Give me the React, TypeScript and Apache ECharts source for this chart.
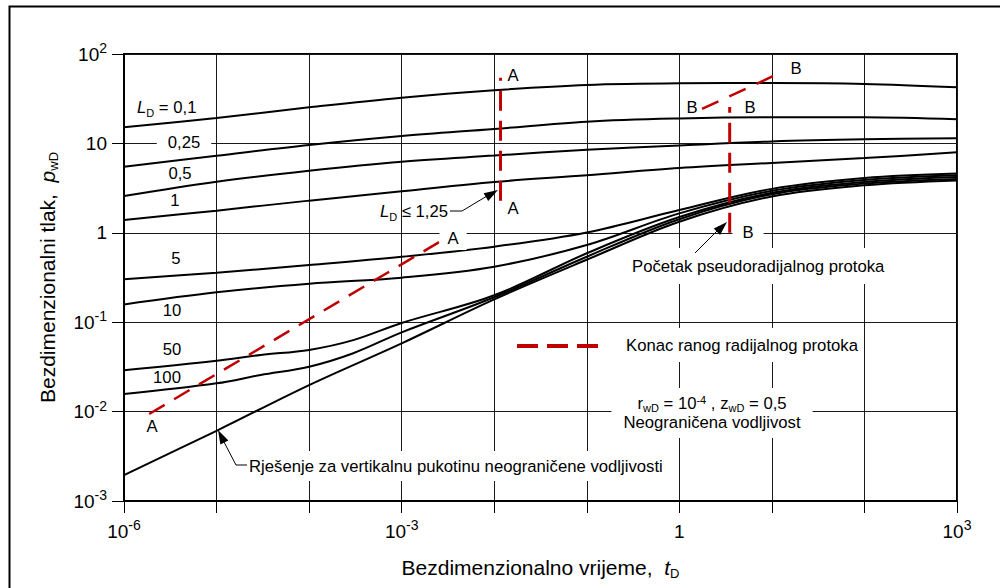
import React, { useEffect, useRef } from 'react';
import * as echarts from 'echarts';

// ---------- data ----------
const tD = [1e-6, 1e-5, 1e-4, 1e-3, 1e-2, 1e-1, 1, 10, 100, 1000];
const pLD01 = [15.2, 19.2, 25.3, 32.5, 39.3, 45.0, 47.0, 47.3, 46.3, 42.4];
const pLD025 = [5.49, 7.28, 9.6, 12.1, 14.5, 17.5, 19.0, 19.6, 19.6, 18.6];
const pLD05 = [2.58, 3.73, 4.95, 6.24, 7.3, 8.5, 9.5, 10.5, 11.1, 11.4];
const pLD1 = [1.39, 1.77, 2.29, 2.91, 3.7, 4.4, 5.3, 6.05, 6.85, 7.95];
const pLD5 = [0.302, 0.358, 0.436, 0.54, 0.7, 1.01, 1.8, 3.1, 4.1, 4.6];
const pLD10 = [0.158, 0.216, 0.27, 0.315, 0.418, 0.73, 1.65, 2.95, 3.9, 4.4];
const tDLong = [1e-6, 1e-5, 3e-5, 1e-4, 3e-4, 1e-3, 1e-2, 1e-1, 1, 10, 100, 1000];
const pLD50 = [0.029, 0.037, 0.043, 0.049, 0.063, 0.098, 0.2, 0.59, 1.5, 2.8, 3.7, 4.2];
const pLD100 = [0.0157, 0.0207, 0.0257, 0.0318, 0.045, 0.077, 0.19, 0.54, 1.42, 2.7, 3.55, 4.0];
const pFrac = [0.00195, 0.0061, 0.0198, 0.058, 0.18, 0.5, 1.33, 2.55, 3.4, 3.85];

// end of early radial flow (red dashed)
const tAvert = [0.0117, 0.0117];
const pAvert = [2.29, 54.3];
const tAslant = [1.87e-6, 2.77e-3];
const pAslant = [0.0094, 0.83];
const tBvert = [3.5, 3.5];
const pBvert = [1.0, 25.5];
const tBslant = [1.76, 10.4];
const pBslant = [24.3, 56.8];

const xLabelExps = [-6, -3, 0, 3];

// ---------- style ----------
const FONT = "'Liberation Sans', Arial, Helvetica, sans-serif";
const RED = '#c00000';
const FS = 16.7;

const pair = (ts: number[], ps: number[]) => ts.map((t, i) => [t, ps[i]]);

const expLabel = (v: number) => {
  const e = Math.round(Math.log10(v));
  if (e === 0) return '1';
  if (e === 1) return '10';
  return `10{sup|${e}}`;
};

const gRich = {
  it: { fontSize: FS, fontFamily: FONT, fontStyle: 'italic', lineHeight: 22, fill: '#000' },
  sub: { fontSize: 11, fontFamily: FONT, lineHeight: 11, verticalAlign: 'bottom', fill: '#000' },
  sup: { fontSize: 11, fontFamily: FONT, lineHeight: 11, verticalAlign: 'top', fill: '#000' },
};

const txt = (x: number, y: number, text: string, extra: any = {}) => ({
  type: 'text',
  x,
  y,
  z: 10,
  silent: true,
  style: {
    text,
    fill: '#000',
    fontSize: FS,
    fontFamily: FONT,
    lineHeight: 22,
    align: 'left',
    verticalAlign: 'middle',
    rich: gRich,
    ...extra,
  },
});

const arrowHead = (tx: number, ty: number, fx: number, fy: number, len = 14, w = 4.5) => {
  const dx = tx - fx;
  const dy = ty - fy;
  const d = Math.hypot(dx, dy);
  const ux = dx / d;
  const uy = dy / d;
  const bx = tx - ux * len;
  const by = ty - uy * len;
  return {
    type: 'polygon',
    z: 11,
    silent: true,
    shape: { points: [[tx, ty], [bx - uy * w, by + ux * w], [bx + uy * w, by - ux * w]] },
    style: { fill: '#000' },
  };
};

const leader = (pts: number[][]) => ({
  type: 'polyline',
  z: 11,
  silent: true,
  shape: { points: pts },
  style: { stroke: '#000', lineWidth: 1, fill: 'none' },
});

const blackCurve = (name: string, ts: number[], ps: number[]) => ({
  name,
  type: 'line',
  data: pair(ts, ps),
  smooth: 0.35,
  symbol: 'none',
  silent: true,
  z: 2,
  lineStyle: { color: '#000', width: 2 },
});

const redLine = (name: string, ts: number[], ps: number[], dash: number[], width: number) => ({
  name,
  type: 'line',
  data: pair(ts, ps),
  symbol: 'none',
  silent: true,
  z: 4,
  lineStyle: { color: RED, width, type: dash, cap: 'butt' },
});

const axisCommon = {
  type: 'log',
  logBase: 10,
  splitNumber: 9,
  axisLine: { show: true, onZero: false, lineStyle: { color: '#000', width: 2 } },
  axisTick: { show: true, inside: false, length: 12, lineStyle: { color: '#000', width: 1 } },
  minorTick: { show: false },
  minorSplitLine: { show: false },
  splitLine: { show: true, lineStyle: { color: '#1a1a1a', width: 1 } },
};

const tickLabel = {
  show: true,
  showMinLabel: true,
  showMaxLabel: true,
  hideOverlap: false,
  color: '#000',
  fontSize: 19,
  fontFamily: FONT,
  lineHeight: 26,
  rich: { sup: { fontSize: 14, lineHeight: 14, verticalAlign: 'top', fontFamily: FONT, color: '#000' } },
};

const titleStyle = {
  color: '#000',
  fontSize: 21,
  fontFamily: FONT,
  lineHeight: 26,
  rich: {
    it: { fontStyle: 'italic', fontSize: 21, fontFamily: FONT, lineHeight: 26, color: '#000' },
    sub: { fontSize: 13, lineHeight: 13, verticalAlign: 'bottom', fontFamily: FONT, color: '#000' },
  },
};

const option: any = {
  animation: false,
  backgroundColor: '#fff',
  grid: {
    left: 124,
    right: 43,
    top: 54,
    bottom: 87,
    containLabel: false,
    outerBoundsMode: 'none',
    show: true,
    borderColor: '#000',
    borderWidth: 2,
    backgroundColor: 'transparent',
  },
  xAxis: {
    ...axisCommon,
    min: 1e-6,
    max: 1e3,
    axisLabel: {
      ...tickLabel,
      margin: 17,
      formatter: (v: number) => {
        const e = Math.round(Math.log10(v));
        return xLabelExps.includes(e) ? expLabel(v) : '';
      },
    },
    name: 'Bezdimenzionalno vrijeme,  {it|t}{sub|D}',
    nameLocation: 'middle',
    nameGap: 53,
    nameTextStyle: titleStyle,
  },
  yAxis: {
    ...axisCommon,
    min: 1e-3,
    max: 1e2,
    splitNumber: 5,
    axisLabel: {
      ...tickLabel,
      margin: 17,
      formatter: (v: number) => expLabel(v),
    },
    name: 'Bezdimenzionalni tlak,  {it|p}{sub|wD}',
    nameLocation: 'middle',
    nameGap: 64,
    nameRotate: 90,
    nameTextStyle: titleStyle,
  },
  series: [
    blackCurve('LD 0.1', tD, pLD01),
    blackCurve('LD 0.25', tD, pLD025),
    blackCurve('LD 0.5', tD, pLD05),
    blackCurve('LD 1', tD, pLD1),
    blackCurve('LD 5', tD, pLD5),
    blackCurve('LD 10', tD, pLD10),
    blackCurve('LD 50', tDLong, pLD50),
    blackCurve('LD 100', tDLong, pLD100),
    blackCurve('Fracture', tD, pFrac),
    redLine('A vertical', tAvert, pAvert, [20, 10], 3),
    redLine('A slanted', tAslant, pAslant, [18, 11], 2.5),
    redLine('B vertical', tBvert, pBvert, [20, 10], 3),
    redLine('B slanted', tBslant, pBslant, [18, 12], 2.5),
  ],
  graphic: [
    {
      type: 'rect',
      z: 0,
      silent: true,
      shape: { x: 9.5, y: 6.5, width: 1200, height: 800 },
      style: { fill: 'none', stroke: '#000', lineWidth: 2 },
    },
    // curve labels
    txt(137, 107, '{it|L}{sub|D} = 0,1'),
    txt(184, 142, '0,25', { align: 'center', backgroundColor: '#fff', padding: [1, 11] }),
    txt(180, 173, '0,5', { align: 'center' }),
    txt(175, 200, '1', { align: 'center' }),
    txt(176, 258, '5', { align: 'center' }),
    txt(172, 310, '10', { align: 'center' }),
    txt(172, 349, '50', { align: 'center' }),
    txt(167, 377, '100', { align: 'center' }),
    // A / B markers
    txt(152, 426, 'A', { align: 'center' }),
    txt(453, 238, 'A', { align: 'center', backgroundColor: '#fff', padding: [1, 8] }),
    txt(513, 75, 'A', { align: 'center' }),
    txt(513, 208, 'A', { align: 'center' }),
    txt(692, 107, 'B', { align: 'center' }),
    txt(750, 107, 'B', { align: 'center' }),
    txt(796, 68, 'B', { align: 'center' }),
    txt(748, 232, 'B', { align: 'center', backgroundColor: '#fff', padding: [1, 10] }),
    // L_D <= 1,25 with arrow
    txt(448, 211, '{it|L}{sub|D} ≤ 1,25', { align: 'right' }),
    leader([[450, 211], [462, 211], [492, 193]]),
    arrowHead(498, 190, 462, 211),
    // Pocetak pseudoradijalnog protoka
    txt(632, 266, 'Početak pseudoradijalnog protoka', { backgroundColor: '#fff', padding: [7, 4, 7, 0] }),
    leader([[695, 253], [720, 228]]),
    arrowHead(727, 222, 695, 253),
    // legend of dashed red line
    {
      type: 'line',
      z: 10,
      silent: true,
      shape: { x1: 517, y1: 346, x2: 599, y2: 346 },
      style: { stroke: RED, lineWidth: 4, lineDash: [21, 9] },
    },
    txt(626, 345, 'Konac ranog radijalnog protoka', { backgroundColor: '#fff', padding: [6, 4, 6, 0] }),
    // parameters box
    txt(712, 413, 'r{sub|wD} = 10{sup|-4} , z{sub|wD} = 0,5\nNeograničena vodljivost', {
      align: 'center',
      lineHeight: 19,
      backgroundColor: '#fff',
      padding: [6, 12],
    }),
    // fracture solution annotation
    txt(249, 466, 'Rješenje za vertikalnu pukotinu neograničene vodljivosti', {
      backgroundColor: '#fff',
      padding: [4, 2, 4, 0],
    }),
    leader([[247, 465], [236, 465], [224, 442]]),
    arrowHead(218, 430, 236, 465),
  ],
};

export default function App() {
  const ref = useRef<HTMLDivElement>(null);
  useEffect(() => {
    if (!ref.current) return;
    const chart = echarts.init(ref.current, null, { renderer: 'svg' });
    chart.setOption(option);
    return () => chart.dispose();
  }, []);
  return (
    <div
      ref={ref}
      style={{ position: 'absolute', left: 0, top: 0, width: 1000, height: 588, background: '#fff' }}
    />
  );
}
